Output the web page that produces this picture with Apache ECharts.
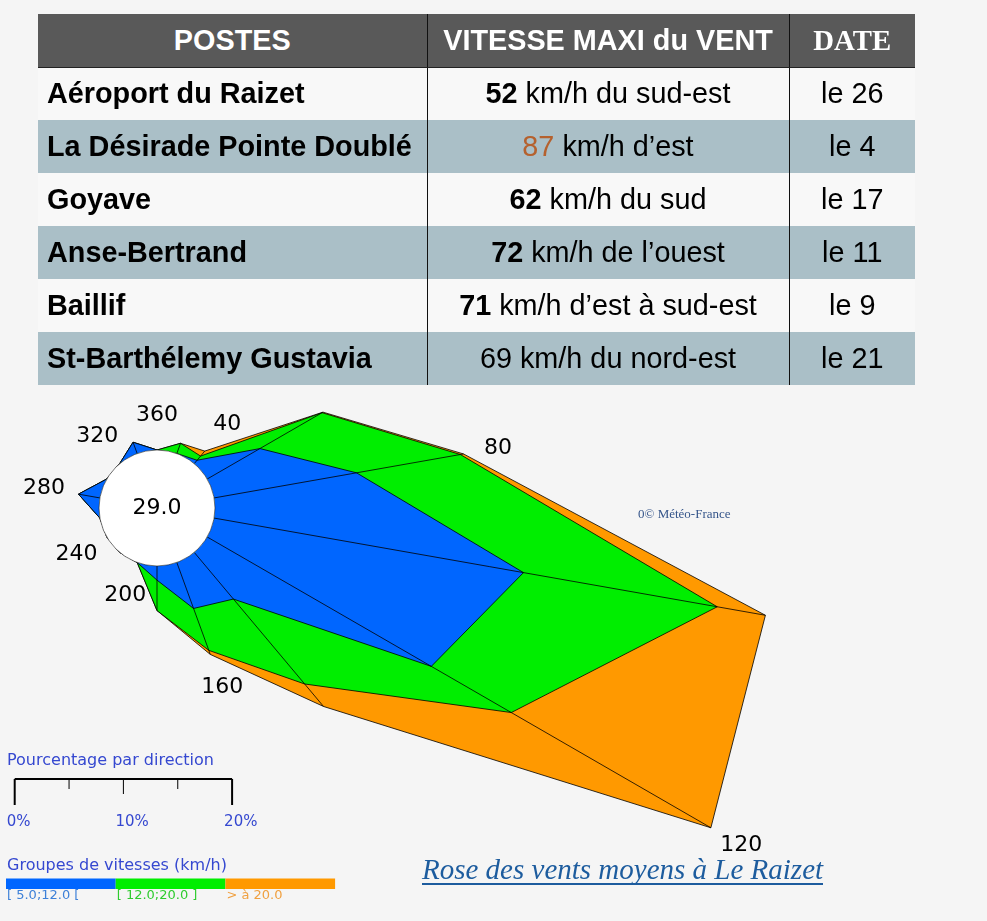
<!DOCTYPE html>
<html><head><meta charset="utf-8">
<script src="https://cdn.jsdelivr.net/npm/echarts@6.0.0/dist/echarts.min.js"></script>
<style>
html,body{margin:0;padding:0;background:#f5f5f5;width:987px;height:921px;overflow:hidden}
#chart{position:absolute;left:0;top:0;width:987px;height:921px}
#tbl{position:absolute;left:38px;top:14px;border-collapse:collapse;table-layout:fixed;width:877px;
 font-family:"Liberation Sans",Arial,sans-serif;font-size:28.8px;color:#000}
#tbl td,#tbl th{padding:0;height:53px;box-sizing:border-box;white-space:nowrap;overflow:hidden}
#tbl th{background:#595959;color:#fff;font-weight:bold;text-align:center;border-bottom:1px solid #222}
#tbl th.serif{font-family:"Liberation Serif","Times New Roman",serif}
#tbl td.c1{font-weight:bold;text-align:left;padding-left:9px}
#tbl td.c2,#tbl td.c3{text-align:center}
#tbl .c2,#tbl .c3{border-left:1px solid #111}
#tbl tr.odd td{background:#f8f8f8}
#tbl tr.even td{background:#aabfc7}
.hl{color:#b5612e}
</style></head>
<body>
<div id="chart"></div>
<table id="tbl"><colgroup><col style="width:389px"><col style="width:362px"><col style="width:126px"></colgroup><tbody id="tb"></tbody></table>
<script>
// ---- table data ----
const HEADERS = ['POSTES', 'VITESSE MAXI du VENT', 'DATE'];
const STATIONS = ['Aéroport du Raizet', 'La Désirade Pointe Doublé', 'Goyave', 'Anse-Bertrand', 'Baillif', 'St-Barthélemy Gustavia'];
const SPEEDS = [52, 87, 62, 72, 71, 69];
const SPEED_STYLE = ['bold', 'highlight', 'bold', 'bold', 'bold', 'plain'];
const WIND_FROM = ['km/h du sud-est', 'km/h d’est', 'km/h du sud', 'km/h de l’ouest', 'km/h d’est à sud-est', 'km/h du nord-est'];
const DATES = ['le 26', 'le 4', 'le 17', 'le 11', 'le 9', 'le 21'];

// ---- wind rose data (percent per direction, per speed group) ----
const DIRS   = [20, 40, 60, 80, 100, 120, 140, 160, 180, 200, 220, 240, 260, 280, 300, 320, 340, 360];
const BLUE   = [0, 0.4, 5.6, 13.3, 28.9, 23.8, 5.6, 4.5, 1.3, 0, 0, 0, 0, 2.0, 0, 0, 1.1, 0];
const GREEN  = [1.0, 0.5, 6.6, 9.7, 18.1, 8.5, 10.2, 4.1, 2.8, 0, 0, 0, 0, 0, 0, 0, 0, 0];
const ORANGE = [0, 0.6, 0.1, 0.3, 4.5, 21.2, 2.7, 0.4, 0, 0, 0, 0, 0, 0, 0, 0, 0, 0];
const CALM = 29.0;
const DIR_LABELS = [40, 80, 120, 160, 200, 240, 280, 320, 360];
const SCALE_TICKS = [0, 10, 20];
const SPEED_CLASSES = ['[ 5.0;12.0 [', '[ 12.0;20.0 ]', '> à 20.0'];
const TITLE = 'Rose des vents moyens à Le Raizet';
const CREDIT = '0© Météo-France';

// ---- build table ----
(function(){
  const tb = document.getElementById('tb');
  let h = '<tr>' + HEADERS.map((t,i)=>'<th class="'+['c1','c2','c3 serif'][i]+'">'+t+'</th>').join('') + '</tr>';
  STATIONS.forEach((s,i)=>{
    let sp = SPEED_STYLE[i]==='bold' ? '<b>'+SPEEDS[i]+'</b>' : SPEED_STYLE[i]==='highlight' ? '<span class="hl">'+SPEEDS[i]+'</span>' : ''+SPEEDS[i];
    h += '<tr class="'+(i%2===0?'odd':'even')+'"><td class="c1">'+s+'</td><td class="c2">'+sp+' '+WIND_FROM[i]+'</td><td class="c3">'+DATES[i]+'</td></tr>';
  });
  tb.innerHTML = h;
})();

// ---- chart ----
const COLORS = ['#0066ff', '#00ee00', '#ff9900'];
const LABEL_COLORS = ['#3d80d8', '#2fcc2f', '#f0a040'];
const CX = 157, CY = 508, R0 = 58, K = 10.87, RMAX = 60;
const RMIN = -R0 / K;
const cumB = BLUE.slice();
const cumG = BLUE.map((b,i)=>b + GREEN[i]);
const cumO = cumG.map((g,i)=>g + ORANGE[i]);
function ring(cum){
  const order = [DIRS.length-1].concat(DIRS.map((_,i)=>i));
  return order.map(i=>[cum[i], DIRS[i]]);
}
function layer(cum, color, z){
  return {type:'line', coordinateSystem:'polar', data:ring(cum), symbol:'none', smooth:false,
    lineStyle:{color:'#000', width:0.8}, areaStyle:{color:color, opacity:1}, z:z, silent:true, animation:false};
}
const series = [layer(cumO, COLORS[2], 2), layer(cumG, COLORS[1], 3), layer(cumB, COLORS[0], 4)];
DIRS.forEach((d,i)=>{
  if (cumO[i] > 0) series.push({type:'line', coordinateSystem:'polar', data:[[0,d],[cumO[i],d]], symbol:'none',
    lineStyle:{color:'#000', width:0.8}, z:5, silent:true, animation:false});
});
series.push({type:'pie', center:[CX,CY], radius:[0,R0], data:[{value:CALM, name:'calme'}], silent:true, animation:false, z:10,
  itemStyle:{color:'#fff', borderColor:'#222', borderWidth:0.6}, labelLine:{show:false}, emphasis:{disabled:true},
  label:{show:true, position:'center', formatter:(p)=>p.value.toFixed(1), fontSize:22, fontFamily:'DejaVu Sans', color:'#000'}});
const GAP = 35 / K;
series.push({type:'scatter', coordinateSystem:'polar', symbolSize:1, itemStyle:{color:'rgba(0,0,0,0)', opacity:1}, silent:true, animation:false, z:11,
  data: DIR_LABELS.map(a=>{ const i = DIRS.indexOf(a); return {value:[cumO[i] + GAP, a], name:String(a)}; }),
  label:{show:true, position:'inside', formatter:(p)=>p.name, fontSize:22, fontFamily:'DejaVu Sans', color:'#000', opacity:1}});

// legend graphics
const BX = 14.7, BY = 779;
const g = [];
g.push({type:'text', style:{x:7, y:761, text:'Pourcentage par direction', font:'16px "DejaVu Sans"', fill:'#3548d0', verticalAlign:'middle'}});
g.push({type:'line', shape:{x1:BX, y1:BY, x2:BX+20*K, y2:BY}, style:{stroke:'#000', lineWidth:2}});
[0,5,10,15,20].forEach(v=>{
  const x = BX + v*K; const len = (v===0||v===20) ? 26 : (v===10 ? 15 : 10);
  g.push({type:'line', shape:{x1:x, y1:BY, x2:x, y2:BY+len}, style:{stroke:'#000', lineWidth:(v===0||v===20)?2:1}});
});
SCALE_TICKS.forEach(v=>{
  g.push({type:'text', style:{x:BX + v*K - 8, y:822, text:v+'%', font:'15px "DejaVu Sans"', fill:'#3548d0', verticalAlign:'middle'}});
});
g.push({type:'text', style:{x:7, y:866, text:'Groupes de vitesses (km/h)', font:'16px "DejaVu Sans"', fill:'#3548d0', verticalAlign:'middle'}});
SPEED_CLASSES.forEach((t,i)=>{
  g.push({type:'rect', shape:{x:6 + i*109.7, y:878.5, width:109.7, height:10.5}, style:{fill:COLORS[i]}});
  g.push({type:'text', style:{x:7 + i*109.7, y:896, text:t, font:'13px "DejaVu Sans"', fill:LABEL_COLORS[i], verticalAlign:'middle'}});
});
g.push({type:'text', style:{x:422, y:871, text:TITLE, font:'italic 29px "Liberation Serif"', fill:'#1d5c9e', verticalAlign:'middle'}});
g.push({type:'line', shape:{x1:422, y1:884, x2:823, y2:884}, style:{stroke:'#1d5c9e', lineWidth:2}});
g.push({type:'text', style:{x:638, y:515, text:CREDIT, font:'13px "Liberation Serif"', fill:'#35558a', verticalAlign:'middle'}});

const chart = echarts.init(document.getElementById('chart'), null, {renderer:'canvas'});
chart.setOption({
  animation:false,
  backgroundColor:'#f5f5f5',
  polar:{center:[CX,CY], radius:(RMAX - RMIN) * K},
  angleAxis:{type:'value', min:0, max:360, startAngle:90, clockwise:true, show:false},
  radiusAxis:{type:'value', min:RMIN, max:RMAX, show:false},
  series: series,
  graphic: g
});
</script>
</body></html>
